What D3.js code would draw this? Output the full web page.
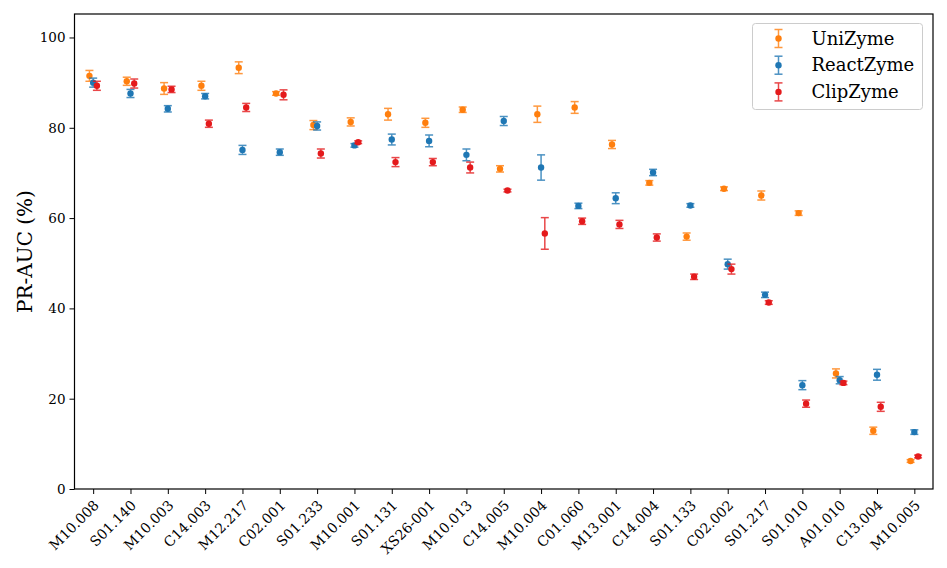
<!DOCTYPE html>
<html>
<head>
<meta charset="utf-8">
<script src="https://cdn.jsdelivr.net/npm/d3@7"></script>
<style>
  body { margin: 0; background: #fff; }
  svg text { font-family: "DejaVu Serif", serif; }
</style>
</head>
<body>
<svg id="chart" width="947" height="568"></svg>
<script>
// categories on the x axis
var families = ["M10.008", "S01.140", "M10.003", "C14.003", "M12.217", "C02.001", "S01.233", "M10.001",
  "S01.131", "XS26-001", "M10.013", "C14.005", "M10.004", "C01.060", "M13.001", "C14.004", "S01.133",
  "C02.002", "S01.217", "S01.010", "A01.010", "C13.004", "M10.005"];

// mean PR-AUC and error per model
var uniMean = [91.5, 90.3, 88.7, 89.3, 93.3, 87.6, 80.6, 81.3, 83.0, 81.1, 84.0, 70.9, 83.0, 84.5, 76.3, 67.8, 55.9, 66.5, 65.0, 61.1, 25.6, 12.9, 6.2];
var uniErr  = [1.2, 0.9, 1.3, 1.0, 1.3, 0.4, 1.0, 0.9, 1.3, 1.0, 0.6, 0.7, 1.8, 1.3, 0.9, 0.5, 0.8, 0.4, 1.0, 0.5, 1.0, 0.8, 0.3];
var reactMean = [90.0, 87.6, 84.2, 87.0, 75.1, 74.6, 80.4, 76.1, 77.4, 77.1, 74.0, 81.5, 71.2, 62.7, 64.4, 70.1, 62.8, 49.8, 43.0, 23.0, 24.1, 25.3, 12.6];
var reactErr  = [1.0, 0.9, 0.7, 0.6, 1.0, 0.7, 0.9, 0.4, 1.2, 1.3, 1.3, 1.0, 2.8, 0.6, 1.2, 0.7, 0.4, 1.1, 0.6, 1.0, 0.8, 1.2, 0.5];
var clipMean = [89.3, 89.8, 88.5, 80.9, 84.5, 87.3, 74.3, 76.8, 72.4, 72.4, 71.2, 66.1, 56.6, 59.3, 58.6, 55.7, 47.0, 48.7, 41.3, 18.9, 23.5, 18.2, 7.2];
var clipErr  = [1.0, 1.0, 0.7, 0.8, 0.9, 1.1, 1.0, 0.3, 1.0, 0.8, 1.2, 0.3, 3.5, 0.7, 0.9, 0.8, 0.6, 1.1, 0.4, 0.8, 0.4, 1.0, 0.3];

var yTicks = [0, 20, 40, 60, 80, 100];

var models = [
  { name: "UniZyme", color: "#ff7f0e", offset: -0.1, mean: uniMean, err: uniErr },
  { name: "ReactZyme", color: "#1f77b4", offset: 0, mean: reactMean, err: reactErr },
  { name: "ClipZyme", color: "#e41a1c", offset: 0.1, mean: clipMean, err: clipErr }
];

var svg = d3.select("#chart");
var margin = { left: 74.5, right: 14, top: 14, bottom: 79 };
var width = 947 - margin.left - margin.right;
var height = 568 - margin.top - margin.bottom;

var g = svg.append("g").attr("transform", "translate(" + margin.left + "," + margin.top + ")");

var x = d3.scaleLinear().domain([-0.5, families.length - 0.5]).range([0, width]);
var y = d3.scaleLinear().domain([0, 105.2]).range([height, 0]);

// x axis
var xAxis = g.append("g")
  .attr("transform", "translate(0," + height + ")")
  .call(d3.axisBottom(x)
    .tickValues(d3.range(families.length))
    .tickFormat(function(i) { return families[i]; })
    .tickSize(5).tickPadding(4));
xAxis.attr("font-family", "DejaVu Serif, serif").attr("font-size", 14);
xAxis.select(".domain").remove();
xAxis.selectAll("text")
  .attr("text-anchor", "end")
  .attr("x", 0)
  .attr("y", 0)
  .attr("dy", "0.72em")
  .attr("transform", "translate(-1,10) rotate(-45)");

// y axis
var yAxis = g.append("g")
  .call(d3.axisLeft(y).tickValues(yTicks).tickSize(5).tickPadding(4));
yAxis.attr("font-family", "DejaVu Serif, serif").attr("font-size", 13.5);
yAxis.select(".domain").remove();

svg.selectAll(".tick line").attr("stroke", "#000").attr("stroke-width", 1);
svg.selectAll(".tick text").attr("fill", "#000");

// frame
g.append("rect")
  .attr("width", width).attr("height", height)
  .attr("fill", "none").attr("stroke", "#000").attr("stroke-width", 1.2);

// y label
svg.append("text")
  .attr("transform", "translate(32," + (margin.top + height / 2) + ") rotate(-90)")
  .attr("text-anchor", "middle")
  .attr("font-size", 20)
  .text("PR-AUC (%)");

// error bars + points
models.forEach(function(m) {
  var grp = g.append("g");
  var pts = families.map(function(f, i) { return { i: i, v: m.mean[i], e: m.err[i] }; });
  var eb = grp.selectAll(".eb").data(pts).enter().append("g")
    .attr("stroke", m.color).attr("stroke-width", 1.5).attr("opacity", 0.8);
  eb.append("line")
    .attr("x1", function(d) { return x(d.i + m.offset); })
    .attr("x2", function(d) { return x(d.i + m.offset); })
    .attr("y1", function(d) { return y(d.v - d.e); })
    .attr("y2", function(d) { return y(d.v + d.e); });
  [-1, 1].forEach(function(s) {
    eb.append("line")
      .attr("x1", function(d) { return x(d.i + m.offset) - 4; })
      .attr("x2", function(d) { return x(d.i + m.offset) + 4; })
      .attr("y1", function(d) { return y(d.v + s * d.e); })
      .attr("y2", function(d) { return y(d.v + s * d.e); });
  });
  grp.selectAll("circle").data(pts).enter().append("circle")
    .attr("cx", function(d) { return x(d.i + m.offset); })
    .attr("cy", function(d) { return y(d.v); })
    .attr("r", 3.2)
    .attr("fill", m.color);
});

// legend
var lg = svg.append("g").attr("transform", "translate(752.5,23.5)");
lg.append("rect")
  .attr("width", 170).attr("height", 86).attr("rx", 3)
  .attr("fill", "#fff").attr("fill-opacity", 0.8)
  .attr("stroke", "#ccc").attr("stroke-width", 1);
models.forEach(function(m, k) {
  var cy = 15 + k * 26.7;
  var item = lg.append("g").attr("transform", "translate(26," + cy + ")");
  var eg = item.append("g").attr("stroke", m.color).attr("stroke-width", 1.5).attr("opacity", 0.8);
  eg.append("line").attr("x1", 0).attr("x2", 0).attr("y1", -9).attr("y2", 9);
  eg.append("line").attr("x1", -4).attr("x2", 4).attr("y1", -9).attr("y2", -9);
  eg.append("line").attr("x1", -4).attr("x2", 4).attr("y1", 9).attr("y2", 9);
  item.append("circle").attr("r", 3.2).attr("fill", m.color);
  item.append("text")
    .attr("x", 33).attr("y", 6)
    .attr("font-size", 18)
    .text(m.name);
});
</script>
</body>
</html>
